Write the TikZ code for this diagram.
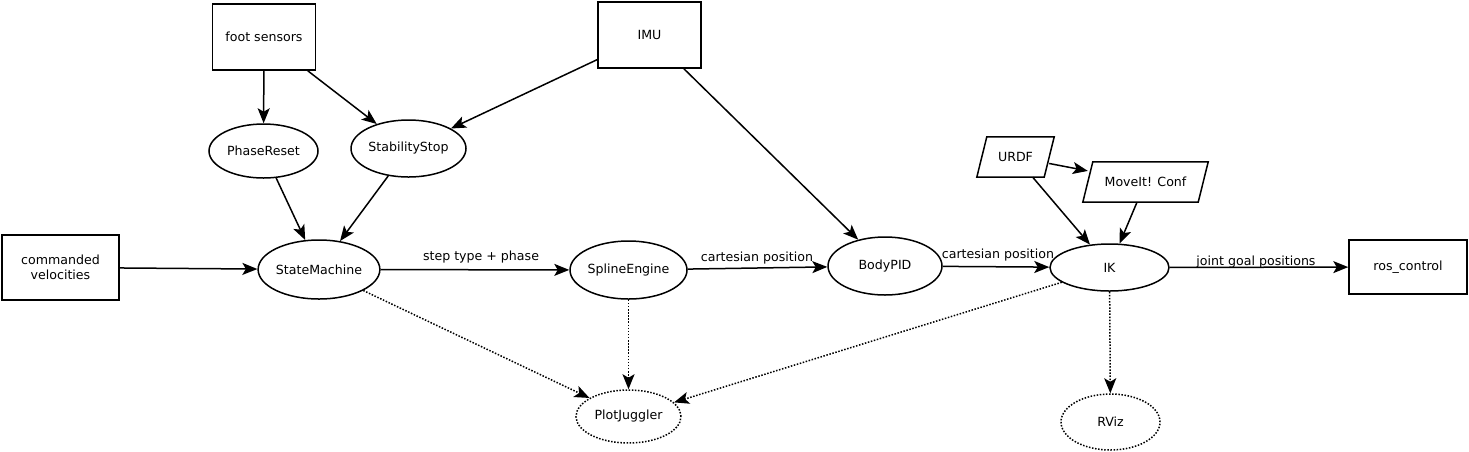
\documentclass[tikz,border=0pt]{standalone}
\usepackage{fontspec}
\setmainfont{DejaVu Sans}
\usetikzlibrary{shapes.geometric,arrows.meta,calc}
\begin{document}
\begin{tikzpicture}[x=1pt,y=-1pt,
  every node/.style={font=\fontsize{12.6}{15}\selectfont, inner sep=0pt},
  box/.style={draw, line width=1.5pt, rectangle},
  ell/.style={draw, line width=1.5pt, ellipse},
  dell/.style={draw, line width=1.5pt, ellipse, dash pattern=on 1.5pt off 1.6pt},
  para/.style={rectangle, minimum height=40pt},
  edge/.style={line width=1.5pt, -{Stealth[length=15pt,width=12pt,inset=3.5pt]}},
  dedge/.style={edge, dash pattern=on 1.5pt off 1.6pt},
  lbl/.style={font=\fontsize{12.6}{15}\selectfont}
]
\useasboundingbox (0,0) rectangle (1469,451);

% nodes
\node[box, minimum width=103pt, minimum height=66pt] (foot) at (264,37) {foot sensors};
\node[box, minimum width=103pt, minimum height=66pt] (imu) at (649.5,35) {IMU};
\node[ell, minimum width=109pt, minimum height=54pt] (phase) at (263.5,151) {PhaseReset};
\node[ell, minimum width=115pt, minimum height=57pt] (stab) at (408.5,148.5) {StabilityStop};
\node[box, minimum width=117pt, minimum height=65pt, align=center] (cmd) at (60.5,267.5) {commanded\\velocities};
\node[ell, minimum width=120pt, minimum height=59pt] (sm) at (319,269.5) {StateMachine};
\node[ell, minimum width=117pt, minimum height=58pt] (spline) at (628.5,270) {SplineEngine};
\node[ell, minimum width=114pt, minimum height=58pt] (pid) at (885,266) {BodyPID};
\node[para, minimum width=67pt] (urdf) at (1015.5,157) {URDF};
\node[para, minimum width=115pt] (moveit) at (1145.5,182) {MoveIt! Conf};
\node[ell, minimum width=119pt, minimum height=47pt] (ik) at (1109.5,267.5) {IK};
\node[box, minimum width=118pt, minimum height=54pt] (ros) at (1408,267) {ros\_control};
\node[dell, minimum width=105pt, minimum height=53pt] (plot) at (628.5,416.5) {PlotJuggler};
\node[dell, minimum width=99pt, minimum height=56pt] (rviz) at (1110.5,422) {RViz};

% parallelogram outlines
\foreach \n in {urdf,moveit}{
  \draw[line width=1.5pt] ($(\n.north west)+(5,0)$) -- ($(\n.north east)+(5,0)$) -- ($(\n.south east)+(-5,0)$) -- ($(\n.south west)+(-5,0)$) -- cycle;
}

% edges
\draw[edge] (foot) -- (phase);
\draw[edge] (foot) -- (stab);
\draw[edge] (imu) -- (stab);
\draw[edge] (imu) -- (pid);
\draw[edge] (phase) -- (sm);
\draw[edge] (stab) -- (sm);
\draw[edge] (cmd) -- (sm);
\draw[edge] (sm) -- (spline);
\draw[edge] (spline) -- (pid);
\draw[edge] (pid) -- (ik);
\draw[edge] (urdf) -- (moveit);
\draw[edge] (urdf) -- (ik);
\draw[edge] (moveit) -- (ik);
\draw[edge] (ik) -- (ros);
\draw[dedge] (sm) -- (plot);
\draw[dedge] (spline) -- (plot);
\draw[dedge] (ik) -- (plot);
\draw[dedge] (ik) -- (rviz);

% edge labels
\node[lbl] (l1) at (481,257) {step type + phase};
\node[lbl] (l2) at (757,258) {cartesian position};
\node[lbl] (l3) at (998,255) {cartesian position};
\node[lbl] (l4) at (1256,262.5) {joint goal positions};
\end{tikzpicture}
\end{document}
